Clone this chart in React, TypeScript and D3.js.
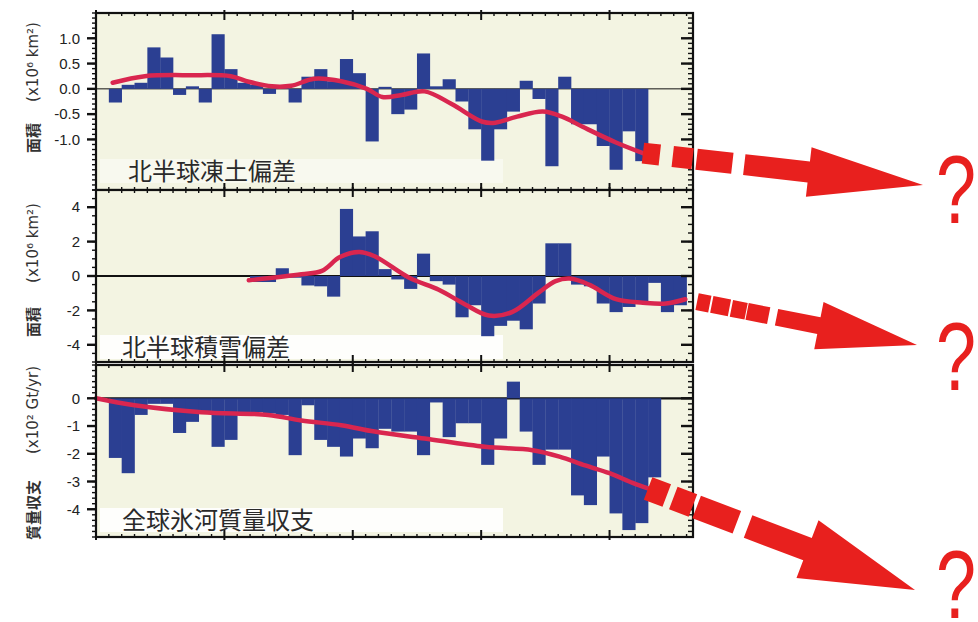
import React from "react";
import * as d3 from "d3";

const W = 978;
const H = 622;

// 北半球凍土偏差 (x10^6 km²)
const frozenYears = [1961, 1962, 1963, 1964, 1965, 1966, 1967, 1968, 1969, 1970, 1971, 1972, 1973, 1974, 1975, 1976, 1977, 1978, 1979, 1980, 1981, 1982, 1983, 1984, 1985, 1986, 1987, 1988, 1989, 1990, 1991, 1992, 1993, 1994, 1995, 1996, 1997, 1998, 1999, 2000, 2001, 2002];
const frozenValues = [-0.27, 0.08, 0.12, 0.82, 0.62, -0.12, 0.05, -0.27, 1.08, 0.39, 0.12, 0.08, -0.1, 0.05, -0.27, 0.24, 0.39, 0.15, 0.59, 0.31, -1.04, 0.04, -0.5, -0.41, 0.7, 0.05, 0.19, -0.25, -0.8, -1.42, -0.8, -0.45, 0.16, -0.2, -1.53, 0.24, -0.7, -0.7, -1.13, -1.6, -0.84, -1.43];
const frozenTrendYears = [1961.3, 1963.8, 1967.4, 1970.5, 1971.9, 1973.7, 1975.2, 1977, 1979.1, 1981.1, 1982.3, 1983.8, 1985.6, 1987.7, 1990.1, 1991.1, 1992.8, 1994.8, 1996.3, 1997.9, 2000.5, 2002.6];
const frozenTrendValues = [0.12, 0.25, 0.27, 0.25, 0.14, 0.05, 0.06, 0.2, 0.15, 0.0, -0.16, -0.12, -0.05, -0.3, -0.65, -0.67, -0.55, -0.45, -0.55, -0.75, -1.06, -1.27];

// 北半球積雪偏差 (x10^6 km²)
const snowYears = [1972, 1973, 1974, 1975, 1976, 1977, 1978, 1979, 1980, 1981, 1982, 1983, 1984, 1985, 1986, 1987, 1988, 1989, 1990, 1991, 1992, 1993, 1994, 1995, 1996, 1997, 1998, 1999, 2000, 2001, 2002, 2003, 2004, 2005];
const snowValues = [-0.35, -0.35, 0.45, -0.1, -0.55, -0.6, -1.2, 3.9, 2.3, 2.6, 0.4, -0.2, -0.75, 1.3, -0.3, -0.5, -2.4, -1.7, -3.5, -2.9, -2.6, -3.1, -1.6, 1.9, 1.9, -0.5, -0.6, -1.6, -2.1, -1.8, -1.5, -0.4, -2.1, -1.7];
const snowTrendYears = [1971.9, 1976, 1977.6, 1979, 1980.5, 1981.7, 1984.4, 1986.7, 1988.75, 1990.6, 1992.4, 1994.5, 1995.8, 1996.9, 1998.4, 2000.5, 2002.6, 2004.4, 2005.9];
const snowTrendValues = [-0.25, 0.1, 0.3, 1.1, 1.4, 1.15, -0.1, -0.8, -1.65, -2.3, -2.1, -0.95, -0.3, -0.15, -0.5, -1.35, -1.55, -1.6, -1.35];

// 全球氷河質量収支 (x10² Gt/yr)
const glacierYears = [1961, 1962, 1963, 1964, 1965, 1966, 1967, 1968, 1969, 1970, 1971, 1972, 1973, 1974, 1975, 1976, 1977, 1978, 1979, 1980, 1981, 1982, 1983, 1984, 1985, 1986, 1987, 1988, 1989, 1990, 1991, 1992, 1993, 1994, 1995, 1996, 1997, 1998, 1999, 2000, 2001, 2002, 2003];
const glacierValues = [-2.15, -2.7, -0.6, -0.2, -0.2, -1.25, -0.85, -0.5, -1.75, -1.5, -0.5, -0.5, -0.55, -0.6, -2.05, -0.25, -1.5, -1.75, -2.1, -1.45, -1.8, -1.1, -1.2, -1.2, -2.05, -0.15, -1.4, -0.9, -0.9, -2.4, -1.45, 0.6, -1.2, -2.4, -1.85, -1.85, -3.5, -3.85, -2.1, -4.15, -4.75, -4.5, -2.85];
const glacierTrendYears = [1960, 1963, 1968.2, 1973.4, 1976, 1979.1, 1981.7, 1985.6, 1990.3, 1994, 1996.1, 1998.1, 2000, 2001.8, 2003];
const glacierTrendValues = [0, -0.25, -0.5, -0.6, -0.8, -0.97, -1.2, -1.45, -1.75, -1.87, -2.1, -2.42, -2.7, -3.05, -3.25];

const frozenTicks = [1, 0.5, 0, -0.5, -1];
const frozenTickLabels = ["1.0", "0.5", "0.0", "-0.5", "-1.0"];
const snowTicks = [4, 2, 0, -2, -4];
const snowTickLabels = ["4", "2", "0", "-2", "-4"];
const glacierTicks = [0, -1, -2, -3, -4];
const glacierTickLabels = ["0", "-1", "-2", "-3", "-4"];

const BAR = "#2b3f92";
const TREND = "#d9264f";
const ARROW = "#e8201e";
const PANEL_BG = "#f3f4e2";

const x = d3.scaleLinear().domain([1960, 2006.5]).range([96, 693]);

const panels = [
  {
    top: 13, bottom: 190, domain: [-2, 1.5],
    years: frozenYears, values: frozenValues,
    trendYears: frozenTrendYears, trendValues: frozenTrendValues,
    ticks: frozenTicks, tickLabels: frozenTickLabels, minorStep: 0.1,
    title: "北半球凍土偏差", titleX: 128, titleY: 171, boxOpacity: 0.45,
    unit: "(x10⁶ km²)", unitY: 62, name: "面積", nameY: 138, zeroW: 1,
  },
  {
    top: 190, bottom: 362, domain: [-5, 5],
    years: snowYears, values: snowValues,
    trendYears: snowTrendYears, trendValues: snowTrendValues,
    ticks: snowTicks, tickLabels: snowTickLabels, minorStep: 0.5,
    title: "北半球積雪偏差", titleX: 122, titleY: 347, boxOpacity: 0.9,
    unit: "(x10⁶ km²)", unitY: 243, name: "面積", nameY: 322, zeroW: 2.2,
  },
  {
    top: 365, bottom: 537, domain: [-5, 1.2],
    years: glacierYears, values: glacierValues,
    trendYears: glacierTrendYears, trendValues: glacierTrendValues,
    ticks: glacierTicks, tickLabels: glacierTickLabels, minorStep: 0.2,
    title: "全球氷河質量収支", titleX: 122, titleY: 520, boxOpacity: 0.9,
    unit: "(x10² Gt/yr)", unitY: 410, name: "質量収支", nameY: 510, zeroW: 2.2,
  },
];

// arrow annotations: tip position, dash pattern before the solid shaft
const arrows = [
  { panel: 0, tip: [923, 185], dash: "17 13 20 4 36 12", shaftFrom: 102, shaftW: 21, headW: 50, headL: 115 },
  { panel: 1, tip: [917, 345], dash: "0 12 13 2 18 2 15 1 22 7", shaftFrom: 93, shaftW: 17, headW: 48, headL: 100 },
  { panel: 2, tip: [915, 590], dash: "20 7 21 4 43 12", shaftFrom: 107, shaftW: 24, headW: 62, headL: 115 },
];
const questionBaselines = [223, 390, 618];

function Panel({ p }: { p: any }) {
  const y = d3.scaleLinear().domain(p.domain).range([p.bottom, p.top]);
  const y0 = y(0);
  const line = d3
    .line<number>()
    .x((_, i) => x(p.trendYears[i]))
    .y((d) => y(d))
    .curve(d3.curveCatmullRom.alpha(0.5));
  const minor = d3.range(Math.ceil(p.domain[0] / p.minorStep) * p.minorStep, p.domain[1] + 1e-9, p.minorStep);
  const years = d3.range(1960, 2007);
  const L = x.range()[0];
  const R = x.range()[1];
  return (
    <g>
      <rect x={L} y={p.top} width={R - L} height={p.bottom - p.top} fill={PANEL_BG} />
      <rect x={100} y={p.titleY - 12} width={403} height={24} fill="#ffffff" opacity={p.boxOpacity} />
      <line x1={L} x2={R} y1={y0} y2={y0} stroke="#111" strokeWidth={p.zeroW} />
      {p.years.map((yr: number, i: number) => {
        const v = p.values[i];
        return (
          <rect
            key={yr}
            x={x(yr)}
            width={x(yr + 1) - x(yr) + 0.3}
            y={Math.min(y(v), y0)}
            height={Math.abs(y(v) - y0)}
            fill={BAR}
          />
        );
      })}
      <path d={line(p.trendValues) || ""} fill="none" stroke={TREND} strokeWidth={4.5} strokeLinecap="round" />
      {/* frame */}
      <rect x={L} y={p.top} width={R - L} height={p.bottom - p.top} fill="none" stroke="#111" strokeWidth={2.2} />
      {/* x ticks top & bottom */}
      {years.map((yr) => {
        const major = yr % 10 === 0;
        const len = major ? 7 : 3;
        return (
          <g key={yr} stroke="#111" strokeWidth={major ? 2 : 1.4}>
            <line x1={x(yr)} x2={x(yr)} y1={p.top - (major ? 3 : 1)} y2={p.top + len} />
            <line x1={x(yr)} x2={x(yr)} y1={p.bottom + (major ? 3 : 1)} y2={p.bottom - len} />
          </g>
        );
      })}
      {/* y ticks left (outward) & right (inward) */}
      {minor.map((v: number) => (
        <g key={v} stroke="#111" strokeWidth={1.4}>
          <line x1={L} x2={L - 4} y1={y(v)} y2={y(v)} />
          <line x1={R} x2={R - 5} y1={y(v)} y2={y(v)} />
        </g>
      ))}
      {p.ticks.map((v: number, i: number) => (
        <g key={v}>
          <line x1={L} x2={L - 9} y1={y(v)} y2={y(v)} stroke="#111" strokeWidth={2.4} />
          <line x1={R} x2={R - 12} y1={y(v)} y2={y(v)} stroke="#111" strokeWidth={2.4} />
          <text
            x={80}
            y={y(v)}
            dy="0.35em"
            textAnchor="end"
            fontFamily="'Liberation Sans Narrow', 'Liberation Sans', sans-serif"
            fontSize={15}
            fill="#222"
          >
            {p.tickLabels[i]}
          </text>
        </g>
      ))}
      <text
        x={p.titleX}
        y={p.titleY}
        dy="0.36em"
        fontFamily="'Noto Sans CJK JP', sans-serif"
        fontSize={24}
        fill="#2a2a2a"
      >
        {p.title}
      </text>
      <text
        transform={`translate(38,${p.unitY}) rotate(-90)`}
        textAnchor="middle"
        fontFamily="'DejaVu Sans', sans-serif"
        fontSize={15}
        fill="#333"
      >
        {p.unit}
      </text>
      <text
        transform={`translate(39,${p.nameY}) rotate(-90)`}
        textAnchor="middle"
        fontFamily="'Noto Sans CJK JP', sans-serif"
        fontSize={15}
        fontWeight={700}
        fill="#333"
      >
        {p.name}
      </text>
    </g>
  );
}

function Arrow({ a }: { a: any }) {
  const p = panels[a.panel];
  const y = d3.scaleLinear().domain(p.domain).range([p.bottom, p.top]);
  const n = p.trendYears.length;
  const sx = x(p.trendYears[n - 1]);
  const sy = y(p.trendValues[n - 1]);
  const [tx, ty] = a.tip;
  const len = Math.hypot(tx - sx, ty - sy);
  const ux = (tx - sx) / len;
  const uy = (ty - sy) / len;
  const nx = -uy;
  const ny = ux;
  const p0 = [sx + ux * a.shaftFrom, sy + uy * a.shaftFrom];
  const b = [tx - ux * a.headL, ty - uy * a.headL];
  const pts = [
    [p0[0] + (nx * a.shaftW) / 2, p0[1] + (ny * a.shaftW) / 2],
    [b[0] + (nx * a.shaftW) / 2, b[1] + (ny * a.shaftW) / 2],
    [b[0] + (nx * a.headW) / 2, b[1] + (ny * a.headW) / 2],
    [tx, ty],
    [b[0] - (nx * a.headW) / 2, b[1] - (ny * a.headW) / 2],
    [b[0] - (nx * a.shaftW) / 2, b[1] - (ny * a.shaftW) / 2],
    [p0[0] - (nx * a.shaftW) / 2, p0[1] - (ny * a.shaftW) / 2],
  ];
  return (
    <g>
      <line
        x1={sx}
        y1={sy}
        x2={p0[0]}
        y2={p0[1]}
        stroke={ARROW}
        strokeWidth={a.shaftW}
        strokeDasharray={a.dash}
      />
      <polygon points={pts.map((q) => q.join(",")).join(" ")} fill={ARROW} />
    </g>
  );
}

export default function App() {
  return (
    <svg
      width={W}
      height={H}
      style={{ position: "absolute", left: 0, top: 0, background: "#fff" }}
    >
      {panels.map((p, i) => (
        <Panel key={i} p={p} />
      ))}
      {arrows.map((a, i) => (
        <Arrow key={i} a={a} />
      ))}
      {questionBaselines.map((by, i) => (
        <text
          key={i}
          transform={`translate(976,${by}) scale(0.75,1)`}
          textAnchor="end"
          fontFamily="'Liberation Sans', sans-serif"
          fontSize={96}
          fill={ARROW}
        >
          ?
        </text>
      ))}
    </svg>
  );
}
